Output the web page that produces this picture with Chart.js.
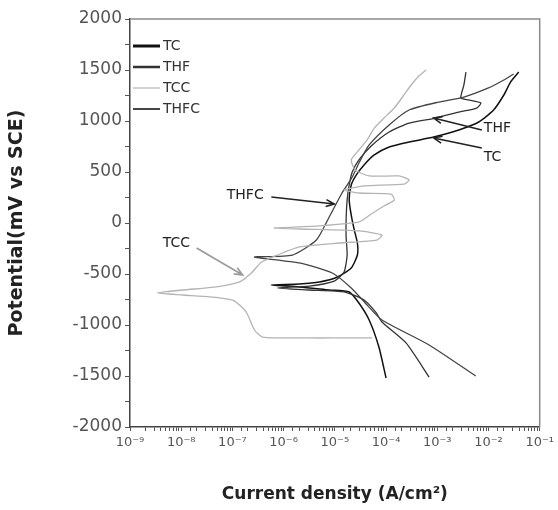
<!DOCTYPE html>
<html>
<head>
<meta charset="utf-8">
<script src="https://cdn.jsdelivr.net/npm/chart.js@4.4.1/dist/chart.umd.min.js"></script>
<style>
  html, body { margin: 0; padding: 0; background: #fff; }
</style>
</head>
<body>
<canvas id="chart" width="558" height="510"></canvas>
<script>
// curve names, in legend order
const seriesNames = ['TC', 'THF', 'TCC', 'THFC'];

// each curve: log10 of current density (A/cm2) and potential (mV vs SCE),
// read from the cathodic end, through Ecorr, then up the anodic branch
const tcLogI = [-4.00, -4.14, -4.33, -4.53, -4.72, -5.11, -5.69, -6.24,
  -5.69, -5.30, -4.95, -4.68, -4.56, -4.56, -4.62, -4.68, -4.72, -4.68, -4.58, -4.43,
  -4.23, -3.94, -3.55, -3.07, -2.58, -2.19, -1.90, -1.70, -1.57, -1.41];
const tcPot = [-1520, -1216, -951, -784, -676, -657, -627, -608,
  -598, -578, -529, -441, -314, -196, -69, 78, 225, 373, 471, 569,
  667, 745, 794, 843, 912, 990, 1108, 1255, 1382, 1480];

const thfLogI = [-3.16, -3.61, -4.08, -4.19, -4.43, -4.82, -5.50, -6.12,
  -5.50, -5.01, -4.82, -4.76, -4.78, -4.78, -4.76, -4.72, -4.66, -4.53, -4.29, -3.94,
  -3.55, -3.03, -2.58, -2.23, -2.15, -2.39, -2.54, -2.48, -2.44];
const thfPot = [-1510, -1176, -971, -882, -755, -676, -657, -637,
  -618, -569, -480, -314, -137, 29, 225, 373, 500, 618, 755, 892,
  980, 1029, 1088, 1127, 1176, 1206, 1225, 1353, 1480];

const tccLogI = [-4.27, -5.01, -5.56, -6.41, -6.57, -6.72, -6.86, -7.00, -7.44, -7.97, -8.46,
  -7.97, -7.31, -6.86, -6.63, -6.43, -6.12, -5.69, -4.91, -4.18, -4.08, -4.53, -5.69,
  -6.18, -5.30, -4.53, -4.29, -4.04, -3.84, -3.90, -4.53, -4.82, -4.43, -3.65, -3.55,
  -3.75, -4.33, -4.60, -4.68, -4.53, -4.37, -4.23, -4.04, -3.84, -3.65, -3.51, -3.36, -3.22];
const tccPot = [-1127, -1127, -1127, -1118, -1049, -882, -804, -755, -725, -706, -686,
  -657, -627, -578, -490, -382, -314, -235, -196, -167, -118, -78, -59,
  -49, -29, 10, 88, 167, 225, 284, 294, 324, 363, 382, 422,
  461, 461, 520, 618, 716, 814, 931, 1029, 1127, 1255, 1353, 1441, 1500];

const thfcLogI = [-2.25, -3.16, -4.08, -4.37, -4.68, -5.05, -5.69, -6.57,
  -5.83, -5.36, -5.11, -4.86, -4.66, -4.53, -4.33, -3.94, -3.55, -2.97, -2.48, -2.00, -1.70, -1.51];
const thfcPot = [-1500, -1196, -951, -804, -637, -490, -392, -333,
  -314, -167, 59, 294, 451, 588, 765, 961, 1108, 1186, 1235, 1324, 1402, 1461];

// axis ticks
const xTickExps = [-9, -8, -7, -6, -5, -4, -3, -2, -1];
const yTickLabels = [-2000, -1500, -1000, -500, 0, 500, 1000, 1500, 2000];

// arrow notes: [log10 I, mV] for text, arrow tail and arrow head
const notes = [
  { label: 'THF', at: [-2.09, 931], from: [-2.13, 912], to: [-3.07, 1029], color: '#222' },
  { label: 'TC', at: [-2.09, 647], from: [-2.13, 735], to: [-3.07, 833], color: '#222' },
  { label: 'THFC', at: [-7.11, 275], from: [-6.24, 255], to: [-5.01, 186], color: '#222' },
  { label: 'TCC', at: [-8.36, -196], from: [-7.70, -245], to: [-6.80, -510], color: '#9a9a9a' }
];

const toPoints = (logI, pot) => logI.map((e, i) => ({ x: Math.pow(10, e), y: pot[i] }));

const styles = {
  TC: { color: '#111', width: 1.5, legendWidth: 3 },
  THF: { color: '#333', width: 1.3, legendWidth: 2.5 },
  TCC: { color: '#b4b4b4', width: 1.3, legendWidth: 1.2 },
  THFC: { color: '#444', width: 1.3, legendWidth: 2 }
};

const curves = {
  TC: toPoints(tcLogI, tcPot),
  THF: toPoints(thfLogI, thfPot),
  TCC: toPoints(tccLogI, tccPot),
  THFC: toPoints(thfcLogI, thfcPot)
};

// grey curve first so the dark ones sit on top
const drawOrder = ['TCC', 'THFC', 'THF', 'TC'];

const sup = { '-': '\u207B', '0': '\u2070', '1': '\u00B9', '2': '\u00B2', '3': '\u00B3',
  '4': '\u2074', '5': '\u2075', '6': '\u2076', '7': '\u2077', '8': '\u2078', '9': '\u2079' };
const powLabel = e => '10' + String(e).split('').map(c => sup[c]).join('');

const extras = {
  id: 'extras',
  afterDatasetsDraw(chart) {
    const { ctx, chartArea: a, scales: { x, y } } = chart;
    const px = p => [x.getPixelForValue(Math.pow(10, p[0])), y.getPixelForValue(p[1])];
    ctx.save();

    // top and right frame
    ctx.strokeStyle = '#8a8a8a';
    ctx.lineWidth = 1.5;
    ctx.beginPath();
    ctx.moveTo(a.left, a.top);
    ctx.lineTo(a.right, a.top);
    ctx.lineTo(a.right, a.bottom);
    ctx.stroke();

    // legend inside the plot, top left
    ctx.font = '14px "DejaVu Sans"';
    ctx.textBaseline = 'middle';
    seriesNames.forEach((name, i) => {
      const s = styles[name];
      const ly = a.top + 27 + i * 21;
      ctx.strokeStyle = s.color;
      ctx.lineWidth = s.legendWidth;
      ctx.beginPath();
      ctx.moveTo(a.left + 3, ly);
      ctx.lineTo(a.left + 30, ly);
      ctx.stroke();
      ctx.fillStyle = '#333';
      ctx.fillText(name, a.left + 33, ly);
    });

    // labels with arrows
    notes.forEach(n => {
      const [tx, ty] = px(n.at);
      const [fx, fy] = px(n.from);
      const [hx, hy] = px(n.to);
      ctx.fillStyle = '#222';
      ctx.fillText(n.label, tx, ty);
      ctx.strokeStyle = n.color;
      ctx.lineWidth = 1.6;
      ctx.beginPath();
      ctx.moveTo(fx, fy);
      ctx.lineTo(hx, hy);
      const ang = Math.atan2(hy - fy, hx - fx);
      ctx.moveTo(hx - 9 * Math.cos(ang - 0.4), hy - 9 * Math.sin(ang - 0.4));
      ctx.lineTo(hx, hy);
      ctx.lineTo(hx - 9 * Math.cos(ang + 0.4), hy - 9 * Math.sin(ang + 0.4));
      ctx.stroke();
    });
    ctx.restore();
  }
};

new Chart(document.getElementById('chart'), {
  type: 'line',
  data: {
    datasets: drawOrder.map(name => ({
      label: name,
      data: curves[name],
      borderColor: styles[name].color,
      borderWidth: styles[name].width,
      pointRadius: 0,
      tension: 0.2,
      fill: false
    }))
  },
  options: {
    responsive: false,
    animation: false,
    devicePixelRatio: 1,
    layout: { padding: { left: 0, right: 17, top: 19, bottom: 0 } },
    plugins: { legend: { display: false }, tooltip: { enabled: false } },
    scales: {
      x: {
        type: 'logarithmic',
        min: 1e-9,
        max: 1e-1,
        afterFit: s => { s.height = 83; },
        grid: { drawOnChartArea: false, tickLength: 4, tickColor: '#555' },
        border: { color: '#444', width: 1.5 },
        ticks: {
          autoSkip: false,
          maxRotation: 0,
          padding: 4,
          color: '#555',
          font: { family: 'DejaVu Sans', size: 13 },
          callback: v => {
            const e = Math.round(Math.log10(v));
            return Math.abs(Math.log10(v) - e) < 1e-6 && xTickExps.includes(e) ? powLabel(e) : '';
          }
        },
        title: {
          display: true,
          text: 'Current density (A/cm\u00B2)',
          color: '#222',
          font: { family: 'DejaVu Sans', size: 17, weight: 'bold' },
          padding: { top: 4, bottom: 5 }
        }
      },
      y: {
        min: -2000,
        max: 2000,
        afterFit: s => { s.width = 130; },
        grid: { drawOnChartArea: false, tickLength: 5, tickColor: '#555' },
        border: { color: '#444', width: 1.5 },
        ticks: {
          stepSize: 250,
          autoSkip: false,
          padding: 3,
          color: '#555',
          font: { family: 'DejaVu Sans', size: 17 },
          callback: v => yTickLabels.includes(v) ? String(v) : ''
        },
        title: {
          display: true,
          text: 'Potential(mV vs SCE)',
          color: '#222',
          font: { family: 'DejaVu Sans', size: 19, weight: 'bold' },
          padding: { top: 6, bottom: 4 }
        }
      }
    }
  },
  plugins: [extras]
});
</script>
</body>
</html>
